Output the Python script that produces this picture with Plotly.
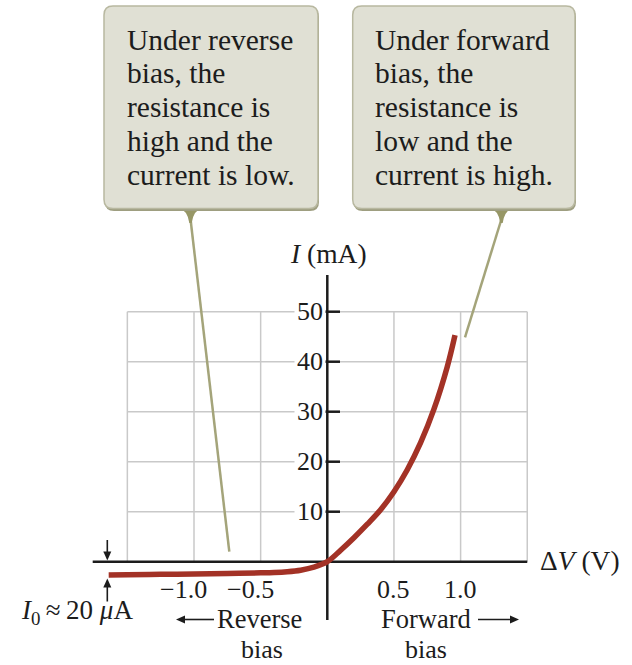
import plotly.graph_objects as go

# ---- diode I-V characteristic (values in volts and milliamperes) ----
voltage_v = [-1.64, -1.5, -1.25, -1.0, -0.75, -0.5, -0.4, -0.3, -0.2, -0.1,
             0.0, 0.1, 0.2, 0.3, 0.4, 0.5, 0.6, 0.7, 0.8, 0.9, 0.958]
current_ma = [-2.64, -2.6, -2.53, -2.45, -2.35, -2.22, -2.15, -2.0, -1.7, -1.1,
              0.0, 2.3, 4.8, 7.5, 10.4, 14.0, 18.4, 23.8, 30.5, 39.0, 45.3]

# grid and tick values
grid_v = [-1.5, -1.0, -0.5, 0.5, 1.0, 1.5]
grid_i = [10, 20, 30, 40, 50]
x_tick_vals = [-1.0, -0.5, 0.5, 1.0]
x_tick_text = ["\u22121.0", "\u22120.5", "0.5", "1.0"]
y_tick_vals = [10, 20, 30, 40, 50]
y_tick_text = ["10", "20", "30", "40", "50"]

callout_reverse = ["Under reverse", "bias, the", "resistance is",
                   "high and the", "current is low."]
callout_forward = ["Under forward", "bias, the", "resistance is",
                   "low and the", "current is high."]

# ---- page geometry ----
W, H = 632, 665
X0, SX = 327.3, 133.3     # pixel of V = 0, pixels per volt
Y0, SY = 561.7, 5.0       # pixel of I = 0, pixels per mA


def vx(px):
    return (px - X0) / SX


def iy(py):
    return (Y0 - py) / SY


def xp(px):
    return px / W


def yp(py):
    return 1 - py / H


SERIF = "Liberation Serif"
INK = "#1c1c1c"
GRID = "#c9c9c9"
CURVE = "#a33226"
STEM = "#a4a47a"
BOX_FILL = "#e0e0d4"
BOX_LINE = "#b8b8a0"
BOX_SHADOW = "#9e9e80"
POINTER = "#979766"

fig = go.Figure()

fig.add_trace(go.Scatter(
    x=voltage_v, y=current_ma, mode="lines",
    line=dict(color=CURVE, width=5.5, shape="spline", smoothing=1.0),
    hoverinfo="skip",
))

shapes = []

# grid
for v in grid_v:
    shapes.append(dict(type="line", xref="x", yref="y", x0=v, x1=v, y0=0, y1=50,
                       line=dict(color=GRID, width=1.5), layer="below"))
for i in grid_i:
    shapes.append(dict(type="line", xref="x", yref="y", x0=-1.5, x1=1.5, y0=i, y1=i,
                       line=dict(color=GRID, width=1.5), layer="below"))

# axes
shapes.append(dict(type="line", xref="x", yref="y", x0=vx(92.7), x1=1.5, y0=0, y1=0,
                   line=dict(color=INK, width=2.5), layer="below"))
shapes.append(dict(type="line", xref="x", yref="y", x0=0, x1=0, y0=iy(620), y1=iy(275),
                   line=dict(color=INK, width=2.5), layer="below"))
for i in y_tick_vals:
    shapes.append(dict(type="line", xref="x", yref="y", x0=vx(325), x1=vx(340), y0=i, y1=i,
                       line=dict(color=INK, width=2.5), layer="below"))


def to_path(segments):
    out = []
    for cmd, *ps in segments:
        out.append(cmd + " " + " ".join(f"{xp(a):.5f},{yp(b):.5f}" for a, b in ps))
    return " ".join(out) + " Z"


def rounded_rect(x0, y0, x1, y1, r):
    return to_path([
        ("M", (x0 + r, y0)), ("L", (x1 - r, y0)), ("Q", (x1, y0), (x1, y0 + r)),
        ("L", (x1, y1 - r)), ("Q", (x1, y1), (x1 - r, y1)),
        ("L", (x0 + r, y1)), ("Q", (x0, y1), (x0, y1 - r)),
        ("L", (x0, y0 + r)), ("Q", (x0, y0), (x0 + r, y0)),
    ])


def pointer(cx, top, tip):
    return to_path([
        ("M", (cx - 12, top)),
        ("Q", (cx - 3, top + 2), (cx - 1.2, tip)),
        ("L", (cx + 1.2, tip)),
        ("Q", (cx + 3, top + 2), (cx + 12, top)),
    ])


def arrow_head(tip_x, tip_y, dx, dy, length=9, half_width=4):
    # filled triangle whose tip is at (tip_x, tip_y), pointing along (dx, dy)
    bx, by = tip_x - dx * length, tip_y - dy * length
    nx, ny = -dy, dx
    return to_path([
        ("M", (tip_x, tip_y)),
        ("L", (bx + nx * half_width, by + ny * half_width)),
        ("L", (bx - nx * half_width, by - ny * half_width)),
    ])


boxes = [
    dict(x0=104, x1=318, cx=190.5, stem_end=(229.3, 551.7)),
    dict(x0=352.7, x1=575, cx=501.5, stem_end=(465, 337.3)),
]
for b in boxes:
    shapes.append(dict(type="line", xref="paper", yref="paper",
                       x0=xp(b["cx"]), y0=yp(219), x1=xp(b["stem_end"][0]), y1=yp(b["stem_end"][1]),
                       line=dict(color=STEM, width=2.5), layer="above"))
    shapes.append(dict(type="path", xref="paper", yref="paper",
                       path=pointer(b["cx"], 208, 223),
                       fillcolor=POINTER, line=dict(width=0), layer="above"))
    shapes.append(dict(type="path", xref="paper", yref="paper",
                       path=rounded_rect(b["x0"] + 1, 8, b["x1"] + 1, 211, 9),
                       fillcolor=BOX_SHADOW, line=dict(width=0), layer="above"))
    shapes.append(dict(type="path", xref="paper", yref="paper",
                       path=rounded_rect(b["x0"], 6, b["x1"], 208.5, 9),
                       fillcolor=BOX_FILL, line=dict(color=BOX_LINE, width=1.5), layer="above"))

# direction arrows: (tail px, head px)
arrows = [
    ((107.3, 540.0), (107.3, 560.5)),   # I0 marker, from above
    ((107.3, 601.5), (107.3, 578.5)),   # I0 marker, from below
    ((214.0, 619.5), (176.0, 619.5)),   # reverse bias
    ((478.0, 619.5), (519.0, 619.5)),   # forward bias
]
for (tx, ty), (hx, hy) in arrows:
    length = ((hx - tx) ** 2 + (hy - ty) ** 2) ** 0.5
    dx, dy = (hx - tx) / length, (hy - ty) / length
    shapes.append(dict(type="line", xref="paper", yref="paper",
                       x0=xp(tx), y0=yp(ty), x1=xp(hx - dx * 6), y1=yp(hy - dy * 6),
                       line=dict(color=INK, width=1.6), layer="above"))
    shapes.append(dict(type="path", xref="paper", yref="paper",
                       path=arrow_head(hx, hy, dx, dy),
                       fillcolor=INK, line=dict(width=0), layer="above"))

annotations = []


def text(x, y, s, size=26, xanchor="center", xref="x", yref="y", **kw):
    annotations.append(dict(x=x, y=y, xref=xref, yref=yref, text=s, showarrow=False,
                            xanchor=xanchor, yanchor="middle",
                            font=dict(family=SERIF, size=size, color=INK), **kw))


# callout text, one line per annotation
line_baselines = [49.3, 83.2, 117.1, 151.0, 184.9]
CALLOUT_SIZE = 29.5
for lines, left in ((callout_reverse, 124.5), (callout_forward, 373.0)):
    for s, base in zip(lines, line_baselines):
        text(xp(left), yp(base - 0.33 * CALLOUT_SIZE), s, size=CALLOUT_SIZE,
             xanchor="left", xref="paper", yref="paper")

# y tick labels with a white backing that interrupts the grid
for v, t in zip(y_tick_vals, y_tick_text):
    annotations.append(dict(x=vx(325.5), y=v, xref="x", yref="y", text=t, showarrow=False,
                            xanchor="right", yanchor="middle", bgcolor="white", borderpad=2,
                            font=dict(family=SERIF, size=26, color=INK)))

# x tick labels (negative labels hang their minus sign to the left)
for v, t in zip(x_tick_vals, x_tick_text):
    if v < 0:
        annotations.append(dict(x=v, y=iy(589), xref="x", yref="y", text=t, showarrow=False,
                                xanchor="right", yanchor="middle", xshift=15,
                                font=dict(family=SERIF, size=26, color=INK)))
    else:
        text(v, iy(589), t)

# axis titles
text(vx(328), iy(253), "<i>I</i> (mA)", size=27.5)
text(vx(538), iy(560), "\u0394<i>V</i> (V)", size=27.5, xanchor="left")

# reverse saturation current marker
text(vx(19), iy(612), "<i>I</i><sub>0</sub>\u2009\u2248\u200920 <i>\u03bc</i>A", size=27, xanchor="left")

# bias direction labels
text(vx(216), iy(619), "Reverse", size=26.5, xanchor="left", borderpad=0)
text(vx(261.7), iy(649.5), "bias", size=26, borderpad=0)
text(vx(426), iy(619), "Forward", size=26.5, borderpad=0)
text(vx(426), iy(649.5), "bias", size=26, borderpad=0)

fig.update_layout(
    width=W, height=H,
    margin=dict(l=0, r=0, t=0, b=0),
    paper_bgcolor="white", plot_bgcolor="white",
    showlegend=False,
    xaxis=dict(range=[vx(0), vx(W)], visible=False, fixedrange=True),
    yaxis=dict(range=[iy(H), iy(0)], visible=False, fixedrange=True),
    shapes=shapes,
    annotations=annotations,
)

fig.write_html("out.html", config={"displayModeBar": False})
